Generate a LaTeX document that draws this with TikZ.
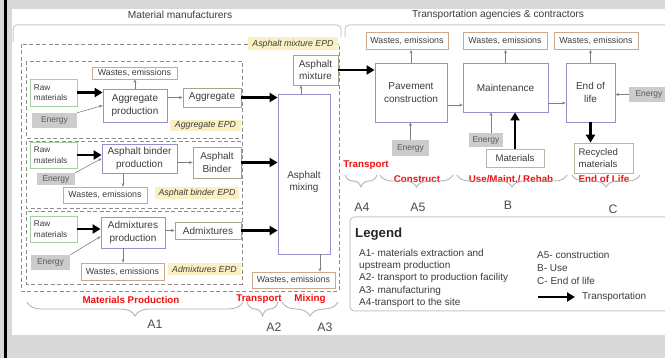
\documentclass[tikz,border=0pt]{standalone}
\usepackage{fontspec}
\setmainfont{Liberation Sans}
\usetikzlibrary{arrows.meta,decorations.pathreplacing}
\definecolor{bgc}{HTML}{D9D9D9}
\definecolor{purp}{HTML}{9A8FC8}
\definecolor{greenc}{HTML}{A8D0A8}
\definecolor{wastec}{HTML}{CCA88C}
\definecolor{prodc}{HTML}{A8A290}
\definecolor{energyc}{HTML}{CCCCCC}
\definecolor{epdc}{HTML}{FAF0C4}
\definecolor{dashc}{HTML}{8C8C8C}
\definecolor{framec}{HTML}{C8C8C8}
\definecolor{bracec}{HTML}{B4B4B4}
\definecolor{txtc}{HTML}{3C3C3C}
\definecolor{thinc}{HTML}{808080}
\definecolor{matc}{HTML}{B8B8A0}
\definecolor{redc}{HTML}{F01010}
\begin{document}
\begin{tikzpicture}[x=1pt,y=-1pt,
  every node/.style={font=\fontsize{10}{12.5}\selectfont, text=txtc, align=center, inner sep=0pt},
  proc/.style={draw=purp, line width=0.8pt, fill=white},
  prod/.style={draw=prodc, line width=0.8pt, fill=white},
  waste/.style={draw=wastec, line width=0.8pt, fill=white, font=\fontsize{8.8}{10}\selectfont},
  raw/.style={draw=greenc, line width=0.8pt, fill=white, align=left, font=\fontsize{8.2}{10.5}\selectfont},
  matbox/.style={draw=matc, line width=0.8pt, fill=white, font=\fontsize{9.6}{12}\selectfont},
  energy/.style={fill=energyc, text=black!65, font=\fontsize{8.5}{10}\selectfont},
  epd/.style={fill=epdc, font=\itshape\fontsize{8.8}{10}\selectfont},
  redlab/.style={text=redc, font=\bfseries\fontsize{9.8}{11}\selectfont},
  stagelab/.style={text=black!70, font=\fontsize{12.3}{13}\selectfont},
  legtxt/.style={anchor=west, font=\fontsize{10}{12}\selectfont},
  dbox/.style={draw=dashc, line width=0.9pt, dash pattern=on 4pt off 2.5pt},
  frameline/.style={draw=framec, line width=1pt, rounded corners=4pt},
  bigarrow/.style={line width=2.6pt, -{Triangle[length=8pt,width=9pt]}},
  thinarrow/.style={draw=thinc, line width=0.6pt, -{Stealth[length=3.5pt,width=3pt]}},
  bracestyle/.style={draw=bracec, line width=0.9pt, decorate, decoration={brace, mirror, amplitude=#1}},
]
\useasboundingbox (0,0) rectangle (665,358);
% background
\fill[bgc] (0,0) rectangle (665,358);
\fill[white] (12,9) rectangle (665,335);
\fill[black] (3.5,0) rectangle (7,358);

% headers and frames
\node (hdrL) at (180,15) {\fontsize{10.2}{12}\selectfont Material manufacturers};
\node (hdrR) at (498,15) {\fontsize{10.2}{12}\selectfont Transportation agencies \& contractors};
\draw[frameline] (13,42) -- (13,25) -- (341,25) -- (341,37);
\draw[frameline] (345,37) -- (345,25) -- (672,25);

% dashed boxes
\draw[dbox] (21,44) rectangle (339,291);
\draw[dbox] (26,61) rectangle (242,138);
\draw[dbox] (26,141) rectangle (242,208);
\draw[dbox] (26,211) rectangle (242,284);

% EPD labels
\node[epd, minimum width=90pt, minimum height=13pt] (epd0) at (293,44) {Asphalt mixture EPD};
\node[epd, minimum width=71pt, minimum height=11pt] (epd1) at (205.5,125.5) {Aggregate EPD};
\node[epd, minimum width=84pt, minimum height=12pt] (epd2) at (197,193) {Asphalt binder EPD};
\node[epd, minimum width=73pt, minimum height=12pt] (epd3) at (204.5,269) {Admixtures EPD};

% box 1: aggregate
\node[waste, minimum width=85pt, minimum height=12pt] (w1) at (134.5,73) {Wastes, emissions};
\node[raw, minimum width=47pt, minimum height=27pt, text width=39pt] (raw1) at (53.5,92.5) {Raw\\materials};
\node[proc, minimum width=64pt, minimum height=33pt] (aggp) at (135,105.5) {Aggregate\\production};
\node[energy, minimum width=45pt, minimum height=15pt] (en1) at (54.5,120.5) {Energy};
\node[prod, minimum width=58pt, minimum height=19pt] (agg) at (212,97.5) {Aggregate};

% box 2: binder
\node[raw, minimum width=47pt, minimum height=26pt, text width=39pt] (raw2) at (53.5,155) {Raw\\materials};
\node[proc, minimum width=75pt, minimum height=29pt] (binp) at (139.5,158.5) {Asphalt binder\\production};
\node[energy, minimum width=38pt, minimum height=12pt] (en2) at (56,179) {Energy};
\node[waste, minimum width=84pt, minimum height=16pt] (w2) at (105,195) {Wastes, emissions};
\node[prod, minimum width=48pt, minimum height=31pt] (binder) at (217,162.5) {Asphalt\\Binder};

% box 3: admixtures
\node[raw, minimum width=47pt, minimum height=26pt, text width=39pt] (raw3) at (53.5,229) {Raw\\materials};
\node[proc, minimum width=64pt, minimum height=31pt] (admp) at (133,232.5) {Admixtures\\production};
\node[energy, minimum width=39pt, minimum height=15pt] (en3) at (50.5,262.5) {Energy};
\node[waste, minimum width=83pt, minimum height=17pt] (w3) at (122.5,271.5) {Wastes, emissions};
\node[prod, minimum width=66pt, minimum height=17pt] (adm) at (208,230.5) {Admixtures};

% mixing
\node[prod, minimum width=45pt, minimum height=30pt] (mixture) at (315.5,70) {Asphalt\\mixture};
\node[proc, minimum width=52pt, minimum height=160pt] (mix) at (304,174) {};
\node (mixtxt) at (304,182) {Asphalt\\mixing};
\node[waste, minimum width=83pt, minimum height=16pt] (w4) at (293.5,280) {Wastes, emissions};

% right side
\node[waste, minimum width=82pt, minimum height=17pt] (w5) at (407,41) {Wastes, emissions};
\node[waste, minimum width=84pt, minimum height=17pt] (w6) at (505,41) {Wastes, emissions};
\node[waste, minimum width=84pt, minimum height=17pt] (w7) at (596,41) {Wastes, emissions};
\node[proc, minimum width=72pt, minimum height=59pt] (pav) at (411,92.5) {Pavement\\construction};
\node[proc, minimum width=85pt, minimum height=49pt] (mnt) at (505.5,87.5) {Maintenance};
\node[proc, minimum width=49pt, minimum height=59pt] (eol) at (590.5,92.5) {End of\\life};
\node[energy, minimum width=37pt, minimum height=16pt] (en4) at (410.5,148) {Energy};
\node[energy, minimum width=34pt, minimum height=14pt] (en5) at (486,140) {Energy};
\node[energy, minimum width=40pt, minimum height=15pt] (en6) at (649,94.5) {Energy};
\node[matbox, minimum width=58pt, minimum height=18pt] (matl) at (515,158) {Materials};
\node[matbox, minimum width=59pt, minimum height=30pt, align=left, text width=50pt] (rec) at (603.5,158) {Recycled\\materials};

% thick arrows
\draw[bigarrow] (raw1.east) -- (raw1.east -| aggp.west);
\draw[bigarrow] (raw2.east) -- (raw2.east -| binp.west);
\draw[bigarrow] (raw3.east) -- (raw3.east -| admp.west);
\draw[bigarrow] (agg.east) -- (agg.east -| mix.west);
\draw[bigarrow] (binder.east) -- (binder.east -| mix.west);
\draw[bigarrow] (adm.east) -- (adm.east -| mix.west);
\draw[bigarrow] (mixture.east) -- (mixture.east -| pav.west);
\draw[bigarrow] (matl.north) -- (matl.north |- mnt.south);
\draw[bigarrow] (eol.south) -- (eol.south |- rec.north);

% thin arrows
\draw[thinarrow] (aggp.north) -- (aggp.north |- w1.south);
\draw[thinarrow] (en1.north east) -- (aggp.west);
\draw[thinarrow] (agg.west -| aggp.east) -- (agg.west);
\draw[thinarrow] (en2.north east) -- (binp.west);
\draw[thinarrow] ([xshift=-16.5pt]binp.south) -- ([xshift=-16.5pt]binp.south |- w2.north);
\draw[thinarrow] (binder.west -| binp.east) -- (binder.west);
\draw[thinarrow] (en3.north east) -- ([yshift=-4pt]admp.west);
\draw[thinarrow] ([xshift=-10pt]admp.south) -- ([xshift=-10pt]admp.south |- w3.north);
\draw[thinarrow] (adm.west -| admp.east) -- (adm.west);
\draw[thinarrow] ([xshift=-3pt]mix.north) -- ([xshift=-3pt]mix.north |- mixture.south);
\draw[thinarrow] ([xshift=16pt]mix.south) -- ([xshift=16pt]mix.south |- w4.north);
\draw[thinarrow] (pav.north) -- (pav.north |- w5.south);
\draw[thinarrow] (mnt.north) -- (mnt.north |- w6.south);
\draw[thinarrow] (eol.north) -- (eol.north |- w7.south);
\draw[thinarrow] ([yshift=-12.5pt]pav.east) -- ([yshift=-12.5pt]pav.east -| mnt.west);
\draw[thinarrow] ([yshift=-15.5pt]mnt.east) -- ([yshift=-15.5pt]mnt.east -| eol.west);
\draw[thinarrow] (en6.west) -- (en6.west -| eol.east);
\draw[thinarrow] (en4.north) -- (en4.north |- pav.south);
\draw[thinarrow] ([xshift=5pt]en5.north) -- ([xshift=5pt]en5.north |- mnt.south);

% red stage labels
\node[redlab] (lmat) at (131,300) {Materials Production};
\node[redlab] (ltr1) at (259,299) {Transport};
\node[redlab] (lmix) at (310,299) {Mixing};
\node[redlab] (ltr2) at (366,165) {Transport};
\node[redlab] (lcon) at (417,179) {Construct};
\node[redlab] (luse) at (511,179) {Use/Maint./ Rehab};
\node[redlab] (leol) at (604,179) {End of Life};

% braces
\coordinate (b1a) at (27,302); \coordinate (b1b) at (243,302);
\coordinate (b2a) at (247,302); \coordinate (b2b) at (278,302);
\coordinate (b3a) at (282,302); \coordinate (b3b) at (338,302);
\coordinate (b4a) at (345,175); \coordinate (b4b) at (377,175);
\coordinate (b5a) at (380,175); \coordinate (b5b) at (453,175);
\coordinate (b6a) at (457,175); \coordinate (b6b) at (567,175);
\coordinate (b7a) at (572,175); \coordinate (b7b) at (640,175);
\draw[bracestyle=14pt] (b1a) -- (b1b);
\draw[bracestyle=14pt] (b2a) -- (b2b);
\draw[bracestyle=14pt] (b3a) -- (b3b);
\draw[bracestyle=12pt] (b4a) -- (b4b);
\draw[bracestyle=12pt] (b5a) -- (b5b);
\draw[bracestyle=12pt] (b6a) -- (b6b);
\draw[bracestyle=12pt] (b7a) -- (b7b);
\node[stagelab] (sA1) at (155,324) {A1};
\node[stagelab] (sA2) at (274,327) {A2};
\node[stagelab] (sA3) at (325,327) {A3};
\node[stagelab] (sA4) at (362,207) {A4};
\node[stagelab] (sA5) at (418,207) {A5};
\node[stagelab] (sB) at (508,205) {B};
\node[stagelab] (sC) at (613,209) {C};

% legend
\draw[draw=framec, line width=1pt, rounded corners=4pt] (350,217) rectangle (672,311);
\node[anchor=west, font=\bfseries\fontsize{13.2}{14}\selectfont, text=black!85] (legT) at (355,234) {Legend};
\node[legtxt] (lg1) at (359,253) {A1- materials extraction and};
\node[legtxt] (lg2) at (359,265.5) {upstream production};
\node[legtxt] (lg3) at (359,278) {A2- transport to production facility};
\node[legtxt] (lg4) at (359,290.5) {A3- manufacturing};
\node[legtxt] (lg5) at (359,302.5) {A4-transport to the site};
\node[legtxt] (lg6) at (537,255) {A5- construction};
\node[legtxt] (lg7) at (537,268) {B- Use};
\node[legtxt] (lg8) at (537,281) {C- End of life};
\coordinate (la) at (538,297);
\node[legtxt] (lg9) at (582,297) {Transportation};
\draw[bigarrow] (la) -- (lg9.west -| 575,0);
\end{tikzpicture}
\end{document}
